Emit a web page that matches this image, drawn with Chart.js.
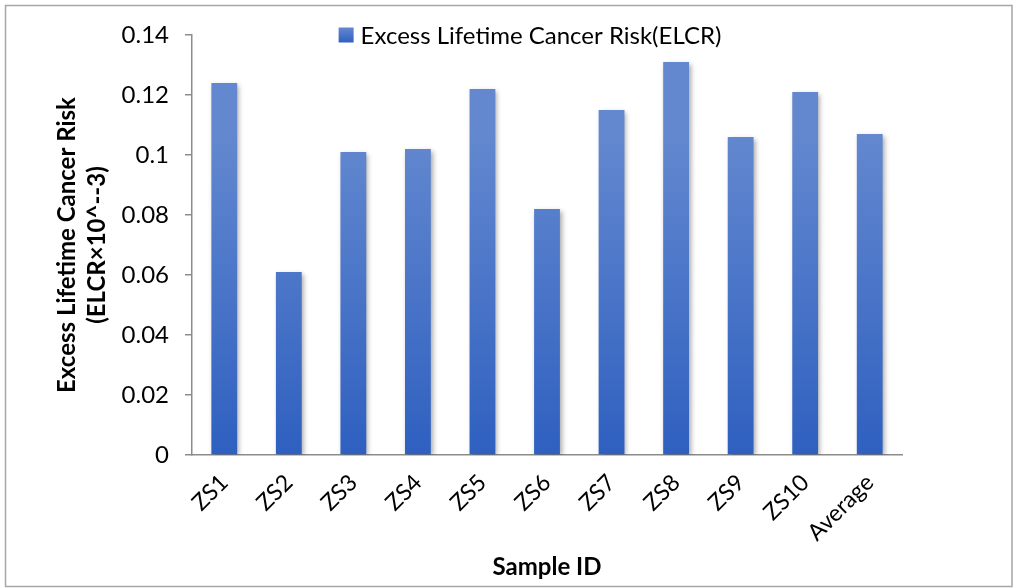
<!DOCTYPE html>
<html>
<head>
<meta charset="utf-8">
<script src="https://cdn.jsdelivr.net/npm/chart.js@4/dist/chart.umd.min.js"></script>
<style>
  html, body { margin: 0; padding: 0; background: #fff; }
  #wrap { width: 1014px; height: 588px; }
</style>
</head>
<body>
<div id="wrap"><canvas id="c" width="1014" height="588"></canvas></div>
<script>
const categories = ['ZS1', 'ZS2', 'ZS3', 'ZS4', 'ZS5', 'ZS6', 'ZS7', 'ZS8', 'ZS9', 'ZS10', 'Average'];
const elcrValues = [0.124, 0.061, 0.101, 0.102, 0.122, 0.082, 0.115, 0.131, 0.106, 0.121, 0.107];
const yTickLabels = ['0', '0.02', '0.04', '0.06', '0.08', '0.1', '0.12', '0.14'];
const seriesLabel = 'Excess Lifetime Cancer Risk(ELCR)';
const xTitle = 'Sample ID';
const yTitle = ['Excess Lifetime Cancer Risk', '(ELCR\u00d710^--3)'];

const FONT = 'Lato, "Open Sans", sans-serif';
const AXIS = '#8c8c8c';

const framePlugin = {
  id: 'frame',
  beforeDraw(chart) {
    const ctx = chart.ctx;
    ctx.save();
    ctx.fillStyle = '#fff';
    ctx.fillRect(0, 0, chart.width, chart.height);
    ctx.strokeStyle = '#a6a6a6';
    ctx.lineWidth = 1.5;
    ctx.strokeRect(5.5, 5.5, 1006.5, 581);
    ctx.restore();
  }
};

const barStylePlugin = {
  id: 'barStyle',
  beforeDatasetsDraw(chart) {
    const ctx = chart.ctx;
    const meta = chart.getDatasetMeta(0);
    meta.data.forEach(el => {
      const g = ctx.createLinearGradient(0, el.y, 0, el.base);
      g.addColorStop(0, '#6388cf');
      g.addColorStop(1, '#2f60c0');
      el.options.backgroundColor = g;
    });
  },
  beforeDatasetDraw(chart) {
    const ctx = chart.ctx;
    ctx.save();
    ctx.shadowColor = 'rgba(0,0,0,0.35)';
    ctx.shadowBlur = 5;
    ctx.shadowOffsetX = 2;
    ctx.shadowOffsetY = 2;
  },
  afterDatasetDraw(chart) {
    chart.ctx.restore();
  }
};

const legendPlugin = {
  id: 'topLegend',
  afterDraw(chart) {
    const ctx = chart.ctx;
    const ds = chart.data.datasets[0];
    ctx.save();
    ctx.font = '24px ' + FONT;
    const tw = ctx.measureText(ds.label).width;
    const box = 15, gap = 7;
    const total = box + gap + tw;
    const cx = 530;
    const x0 = cx - total / 2;
    const cy = 35;
    const g = ctx.createLinearGradient(0, cy - box / 2, 0, cy + box / 2);
    g.addColorStop(0, '#6388cf');
    g.addColorStop(1, '#2f60c0');
    ctx.fillStyle = g;
    ctx.fillRect(x0, cy - box / 2, box, box);
    ctx.fillStyle = '#000';
    ctx.textBaseline = 'middle';
    ctx.textAlign = 'left';
    ctx.fillText(ds.label, x0 + box + gap, cy + 1);
    ctx.restore();
  }
};

new Chart(document.getElementById('c'), {
  type: 'bar',
  data: {
    labels: categories,
    datasets: [{
      label: seriesLabel,
      data: elcrValues,
      backgroundColor: '#4472c4',
      borderWidth: 0,
      barPercentage: 0.8,
      categoryPercentage: 0.5
    }]
  },
  options: {
    responsive: false,
    animation: false,
    devicePixelRatio: 1,
    layout: { padding: { top: 35, right: 112, bottom: 0, left: 0 } },
    plugins: {
      legend: { display: false },
      tooltip: { enabled: false }
    },
    scales: {
      x: {
        afterFit(scale) { scale.height = 133; },
        grid: { display: false },
        border: { display: true, color: AXIS, width: 1.5 },
        ticks: {
          color: '#000',
          font: { family: FONT, size: 23 },
          minRotation: 45,
          maxRotation: 45,
          padding: 6,
          autoSkip: false
        },
        title: {
          display: true,
          text: xTitle,
          color: '#000',
          font: { family: FONT, size: 24, weight: 'bold', lineHeight: 1.2 },
          padding: { top: 0, bottom: 6 }
        }
      },
      y: {
        min: 0,
        max: 0.14,
        afterFit(scale) { scale.width = 192; },
        afterBuildTicks(scale) {
          scale.ticks = yTickLabels.map((t, i) => ({ value: i * 0.02 }));
        },
        grid: {
          display: true,
          drawOnChartArea: false,
          drawTicks: true,
          tickLength: 7,
          color: AXIS,
          lineWidth: 1.5
        },
        border: { display: true, color: AXIS, width: 1.5 },
        ticks: {
          color: '#000',
          font: { family: FONT, size: 24 },
          padding: 16,
          callback: (v, i) => yTickLabels[i]
        },
        title: {
          display: true,
          text: yTitle,
          color: '#000',
          font: { family: FONT, size: 24, weight: 'bold', lineHeight: 1.25 },
          padding: { top: 52, bottom: 0 }
        }
      }
    }
  },
  plugins: [framePlugin, barStylePlugin, legendPlugin]
});
</script>
</body>
</html>
